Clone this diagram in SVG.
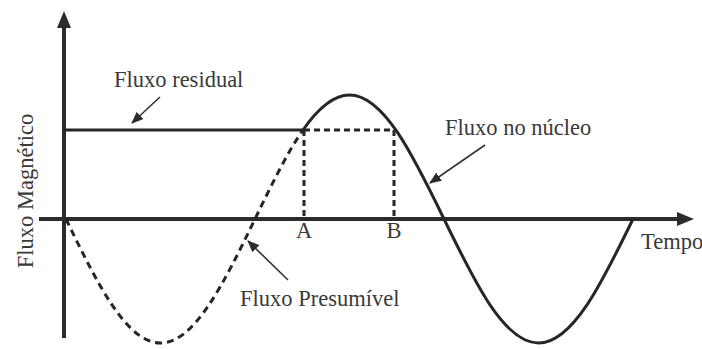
<svg xmlns="http://www.w3.org/2000/svg" width="702" height="349" viewBox="0 0 702 349">
<style>
  .lbl { font-family: "Liberation Serif", "Times New Roman", serif; font-size: 22.5px; fill: #3a3a3a; }
  .axis { stroke: #2b2b2b; stroke-width: 4; fill: none; }
  .curve { stroke: #262626; stroke-width: 3; fill: none; }
  .dash { stroke: #262626; stroke-width: 3; fill: none; stroke-dasharray: 7 5; }
  .dashl { stroke: #262626; stroke-width: 3; fill: none; stroke-dasharray: 6 4; }
  .ann { stroke: #333; stroke-width: 1.6; fill: none; }
</style>
<defs>
  <marker id="ah" markerWidth="12" markerHeight="10" refX="11" refY="5" orient="auto" markerUnits="userSpaceOnUse">
    <path d="M0,0 L12,5 L0,10 Z" fill="#2b2b2b"/>
  </marker>
</defs>
<rect width="702" height="349" fill="#fff"/>
<g id="axes">
  <line class="axis" x1="64" y1="26" x2="64" y2="338"/>
  <path d="M64,11 L71,28 L57,28 Z" fill="#2b2b2b"/>
  <line class="axis" x1="39" y1="219" x2="679" y2="219"/>
  <path d="M694,219 L677,212 L677,226 Z" fill="#2b2b2b"/>
</g>
<g id="residual">
  <line class="curve" x1="64" y1="130" x2="304" y2="130"/>
</g>
<g id="core-flux">
  <path class="curve" d="M303,130 C318.5,107.7 334,95 349.5,95 C383.7,95 413.2,155.5 444,219 C474.8,282.5 504.3,343 538.5,343 C572.7,343 602.2,282.5 633,219"/>
</g>
<g id="presumed-flux">
  <path class="dash" d="M66,219 C96.8,282.5 126.3,343 160.5,343 C194.7,343 224.2,282.5 255,219 C271,186 287,153 303,130"/>
</g>
<g id="AB-box">
  <line class="dashl" x1="304" y1="130" x2="394" y2="130"/>
  <line class="dashl" x1="304" y1="130" x2="304" y2="219"/>
  <line class="dashl" x1="394" y1="130" x2="394" y2="219"/>
</g>
<g id="connectors">
  <line class="ann" x1="160" y1="97" x2="132" y2="123" marker-end="url(#ah)"/>
  <line class="ann" x1="485" y1="145" x2="430" y2="183" marker-end="url(#ah)"/>
  <line class="ann" x1="288" y1="280" x2="248" y2="241" marker-end="url(#ah)"/>
</g>
<g id="labels">
  <text class="lbl" x="114" y="87">Fluxo residual</text>
  <text class="lbl" x="445" y="135">Fluxo no núcleo</text>
  <text class="lbl" x="240" y="306">Fluxo Presumível</text>
  <text class="lbl" x="641" y="249">Tempo</text>
  <text class="lbl" x="304" y="238" text-anchor="middle">A</text>
  <text class="lbl" x="394" y="238" text-anchor="middle">B</text>
  <text class="lbl" transform="translate(33,191) rotate(-90)" text-anchor="middle">Fluxo Magnético</text>
</g>
</svg>
